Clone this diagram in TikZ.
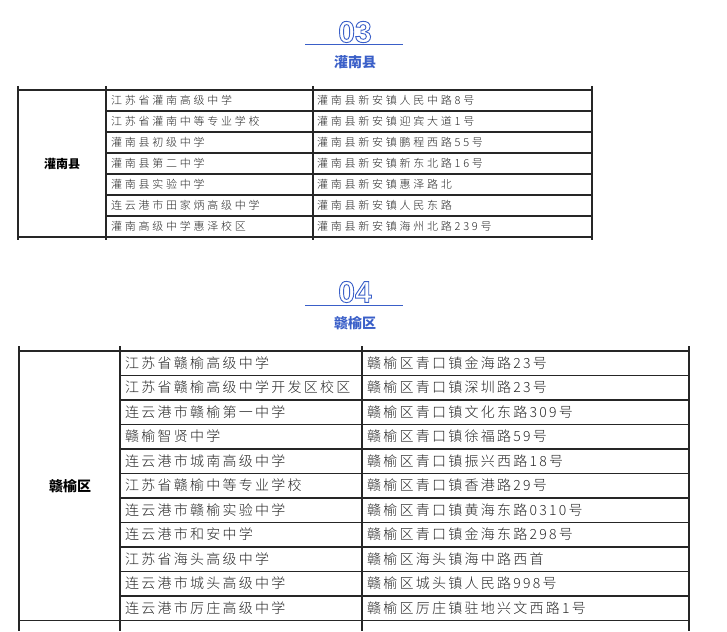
\documentclass[tikz,border=0pt]{standalone}
\usepackage{fontspec}
\setmainfont{Liberation Sans}
\newfontfamily\cjk{Noto Sans CJK SC}
\newfontfamily\cjkl[LetterSpace=25]{Noto Sans CJK SC Light}
\newfontfamily\cjkm[LetterSpace=16]{Noto Sans CJK SC Light}
\definecolor{hblue}{HTML}{3A5FC8}
\begin{document}
\begin{tikzpicture}[x=1pt,y=-1pt,
  cellA/.style={anchor=west,inner sep=0,font=\cjkl\fontsize{11}{11}\selectfont,text=black!85},
  cellB/.style={anchor=west,inner sep=0,font=\cjkm\fontsize{14}{14}\selectfont,text=black!85},
  grp/.style={inner sep=0,font=\cjk\bfseries\fontsize{12}{12}\selectfont},
  tline/.style={line width=1.2pt,black!85},
  num/.style={inner sep=0,text=hblue,font=\fontsize{30}{30}\selectfont\bfseries},
  ttl/.style={inner sep=0,text=hblue,font=\cjk\bfseries\fontsize{14}{14}\selectfont}]
\useasboundingbox (0,0) rectangle (727,631);
% header 03
\node[num] (n3) at (355,32) {\special{pdf:literal direct 1 Tr 0.9 w}03\special{pdf:literal direct 0 Tr}};
\coordinate (l3a) at (305,45); \coordinate (l3b) at (403,45);
\draw[hblue,line width=1pt] (l3a) -- (l3b);
\node[ttl] (t3) at (355,62) {灌南县};
% table 1
\foreach \y in {90,111,...,237} \draw[tline] (106,\y) -- (592,\y);
\draw[tline] (18,90) -- (106,90);
\draw[tline] (18,237) -- (106,237);
\foreach \x in {18,106,313,592} \draw[tline] (\x,86) -- (\x,240);
\node[grp] (g1) at (62,163.5) {灌南县};
\foreach \i/\a/\b in {0/江苏省灌南高级中学/灌南县新安镇人民中路8号,
1/江苏省灌南中等专业学校/灌南县新安镇迎宾大道1号,
2/灌南县初级中学/灌南县新安镇鹏程西路55号,
3/灌南县第二中学/灌南县新安镇新东北路16号,
4/灌南县实验中学/灌南县新安镇惠泽路北,
5/连云港市田家炳高级中学/灌南县新安镇人民东路,
6/灌南高级中学惠泽校区/灌南县新安镇海州北路239号}{
  \node[cellA] (a\i) at (111,100.5+21*\i) {\a};
  \node[cellA] (b\i) at (317,100.5+21*\i) {\b};
}
% header 04
\node[num] (n4) at (355,292) {\special{pdf:literal direct 1 Tr 0.9 w}04\special{pdf:literal direct 0 Tr}};
\coordinate (l4a) at (305,305); \coordinate (l4b) at (403,305);
\draw[hblue,line width=1pt] (l4a) -- (l4b);
\node[ttl] (t4) at (355,323) {赣榆区};
% table 2
\foreach \k in {0,...,11} \draw[tline] (120,351+24.5*\k) -- (689,351+24.5*\k);
\draw[tline] (19,351) -- (120,351);
\draw[tline] (19,620.5) -- (120,620.5);
\foreach \x in {19,120,362,689} \draw[tline] (\x,346) -- (\x,631);
\node[grp,font=\cjk\bfseries\fontsize{14}{14}\selectfont] (g2) at (70,486) {赣榆区};
\foreach \i/\a/\b in {0/江苏省赣榆高级中学/赣榆区青口镇金海路23号,
1/江苏省赣榆高级中学开发区校区/赣榆区青口镇深圳路23号,
2/连云港市赣榆第一中学/赣榆区青口镇文化东路309号,
3/赣榆智贤中学/赣榆区青口镇徐福路59号,
4/连云港市城南高级中学/赣榆区青口镇振兴西路18号,
5/江苏省赣榆中等专业学校/赣榆区青口镇香港路29号,
6/连云港市赣榆实验中学/赣榆区青口镇黄海东路0310号,
7/连云港市和安中学/赣榆区青口镇金海东路298号,
8/江苏省海头高级中学/赣榆区海头镇海中路西首,
9/连云港市城头高级中学/赣榆区城头镇人民路998号,
10/连云港市厉庄高级中学/赣榆区厉庄镇驻地兴文西路1号}{
  \node[cellB] (c\i) at (125,363+24.5*\i) {\a};
  \node[cellB] (d\i) at (367,363+24.5*\i) {\b};
}
\end{tikzpicture}
\end{document}
